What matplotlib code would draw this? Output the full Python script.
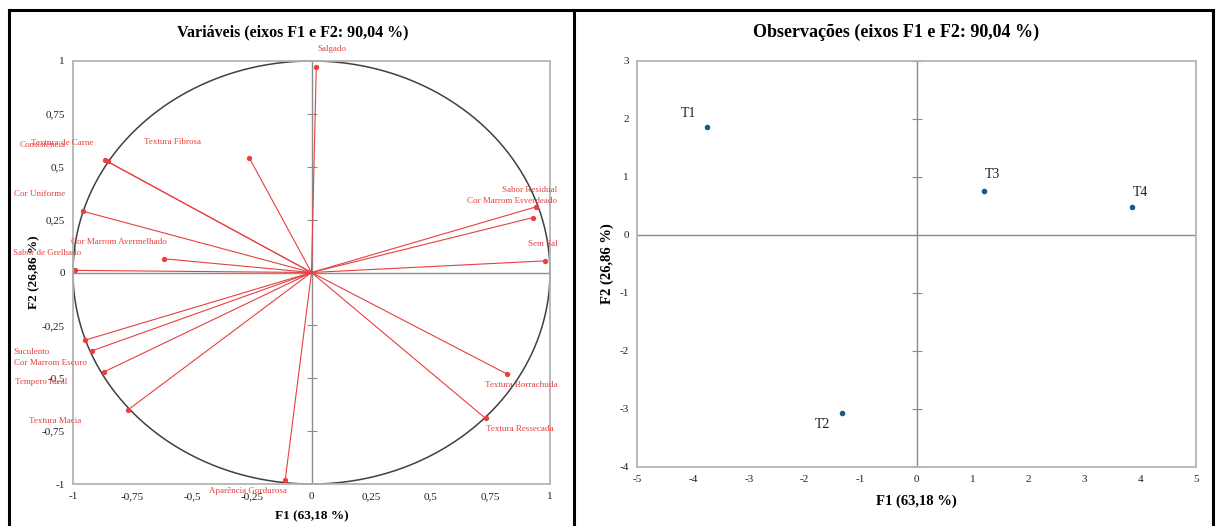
import matplotlib.pyplot as plt
import numpy as np
from matplotlib.lines import Line2D

plt.rcParams['font.family'] = ['Liberation Serif', 'DejaVu Serif']
plt.rcParams['axes.unicode_minus'] = False

# Correlation circle: variable loadings on F1 / F2
var_names = ['Salgado', 'Textura Fibrosa', 'Textura de Carne', 'Consistência',
             'Cor Uniforme', 'Cor Marrom Avermelhado', 'Sabor de Grelhado',
             'Sabor Residual', 'Cor Marrom Esverdeado', 'Sem Sal', 'Suculento',
             'Cor Marrom Escuro', 'Tempero Ideal', 'Textura Macia',
             'Aparência Gordurosa', 'Textura Borrachuda', 'Textura Ressecada']
var_f1 = [0.02, -0.26, -0.855, -0.865, -0.96, -0.62, -0.99, 0.94, 0.93, 0.98,
          -0.95, -0.92, -0.87, -0.77, -0.11, 0.82, 0.73]
var_f2 = [0.97, 0.54, 0.525, 0.53, 0.29, 0.065, 0.01, 0.31, 0.26, 0.055,
          -0.32, -0.37, -0.47, -0.65, -0.98, -0.48, -0.69]

# label offsets in pixels (dx, dy)
var_offsets = [(16, 18), (-77, 16), (-45, 18), (-63, 15), (-43, 17), (-45, 17),
               (-28, 17), (-6, 17), (-21, 17), (-2, 17), (-53, -12), (-42, -12),
               (-63, -10), (-73, -11), (-37, -11), (14, -11), (34, -11)]

# Observation scores
obs_names = ['T1', 'T2', 'T3', 'T4']
obs_f1 = [-3.75, -1.34, 1.2, 3.86]
obs_f2 = [1.86, -3.07, 0.76, 0.48]
obs_offsets = [(-18, 14), (-19, -11), (9, 16), (8, 15)]

left_ticks = [-1, -0.75, -0.5, -0.25, 0, 0.25, 0.5, 0.75, 1]
left_ticklabels = ['-1', '-0,75', '-0,5', '-0,25', '0', '0,25', '0,5', '0,75', '1']
right_xticks = list(range(-5, 6))
right_yticks = list(range(-4, 4))

red = '#e84040'
frame_grey = '#b4b4b4'
axis_grey = '#8c8c8c'

fig = plt.figure(figsize=(12.16, 5.26), dpi=100)
ax1 = fig.add_axes([73 / 1216, 1 - 484 / 526, 477 / 1216, 423 / 526])
ax2 = fig.add_axes([637 / 1216, 1 - 467 / 526, 559 / 1216, 406 / 526])


def style_axes(ax):
    for sp in ax.spines.values():
        sp.set_color(frame_grey)
        sp.set_linewidth(1.3)
    ax.tick_params(length=0, labelsize=8, pad=6, colors='#202020')


# --- left: variables ---
style_axes(ax1)
ax1.set_xlim(-1, 1)
ax1.set_ylim(-1, 1)
ax1.set_xticks(left_ticks)
ax1.set_xticklabels(left_ticklabels)
ax1.set_yticks(left_ticks)
ax1.set_yticklabels(left_ticklabels)

ax1.axhline(0, color=axis_grey, lw=1)
ax1.axvline(0, color=axis_grey, lw=1)
ax1.plot([0] * len(left_ticks), left_ticks, ls='none', marker='_',
         ms=7, mew=0.8, color=axis_grey)

t = np.linspace(0, 2 * np.pi, 400)
ax1.plot(np.cos(t), np.sin(t), color='#404040', lw=1.1, clip_on=False)

for name, x, y, off in zip(var_names, var_f1, var_f2, var_offsets):
    ax1.plot([0, x], [0, y], color=red, lw=0.8)
    ax1.plot(x, y, 'o', color=red, ms=2.8)
    ax1.annotate(name, (x, y), xytext=off, textcoords='offset pixels',
                 ha='center', va='center', fontsize=6.5, color=red,
                 annotation_clip=False)

ax1.set_title('Variáveis (eixos F1 e F2: 90,04 %)', fontsize=11.5,
              fontweight='bold', x=0.461, pad=18)
ax1.set_xlabel('F1 (63,18 %)', fontsize=9.5, fontweight='bold')
ax1.set_ylabel('F2 (26,86 %)', fontsize=9.5, fontweight='bold')
ax1.xaxis.set_label_coords(0.5, -0.061)
ax1.yaxis.set_label_coords(-0.068, 0.5)

# --- right: observations ---
style_axes(ax2)
ax2.set_xlim(-5, 5)
ax2.set_ylim(-4, 3)
ax2.set_xticks(right_xticks)
ax2.set_yticks(right_yticks)

ax2.axhline(0, color=axis_grey, lw=1)
ax2.axvline(0, color=axis_grey, lw=1)
ax2.plot([0] * len(right_yticks), right_yticks, ls='none', marker='_',
         ms=7, mew=0.8, color=axis_grey)

ax2.plot(obs_f1, obs_f2, 'o', ls='none', color='#1b5a82', ms=3)
for name, x, y, off in zip(obs_names, obs_f1, obs_f2, obs_offsets):
    ax2.annotate(name, (x, y), xytext=off, textcoords='offset pixels',
                 ha='center', va='center', fontsize=10, color='#202020')

ax2.set_title('Observações (eixos F1 e F2: 90,04 %)', fontsize=13,
              fontweight='bold', x=0.463, pad=17)
ax2.set_xlabel('F1 (63,18 %)', fontsize=10.5, fontweight='bold')
ax2.set_ylabel('F2 (26,86 %)', fontsize=10.5, fontweight='bold')
ax2.xaxis.set_label_coords(0.5, -0.069)
ax2.yaxis.set_label_coords(-0.041, 0.5)

# panel borders
for xs, ys in [([9, 1213], [10, 10]), ([9, 9], [10, 526]),
               ([574, 574], [10, 526]), ([1213, 1213], [10, 526])]:
    fig.add_artist(Line2D([v / 1216 for v in xs], [1 - v / 526 for v in ys],
                          color='black', lw=2.2))

fig.savefig('out.png', dpi=100)
